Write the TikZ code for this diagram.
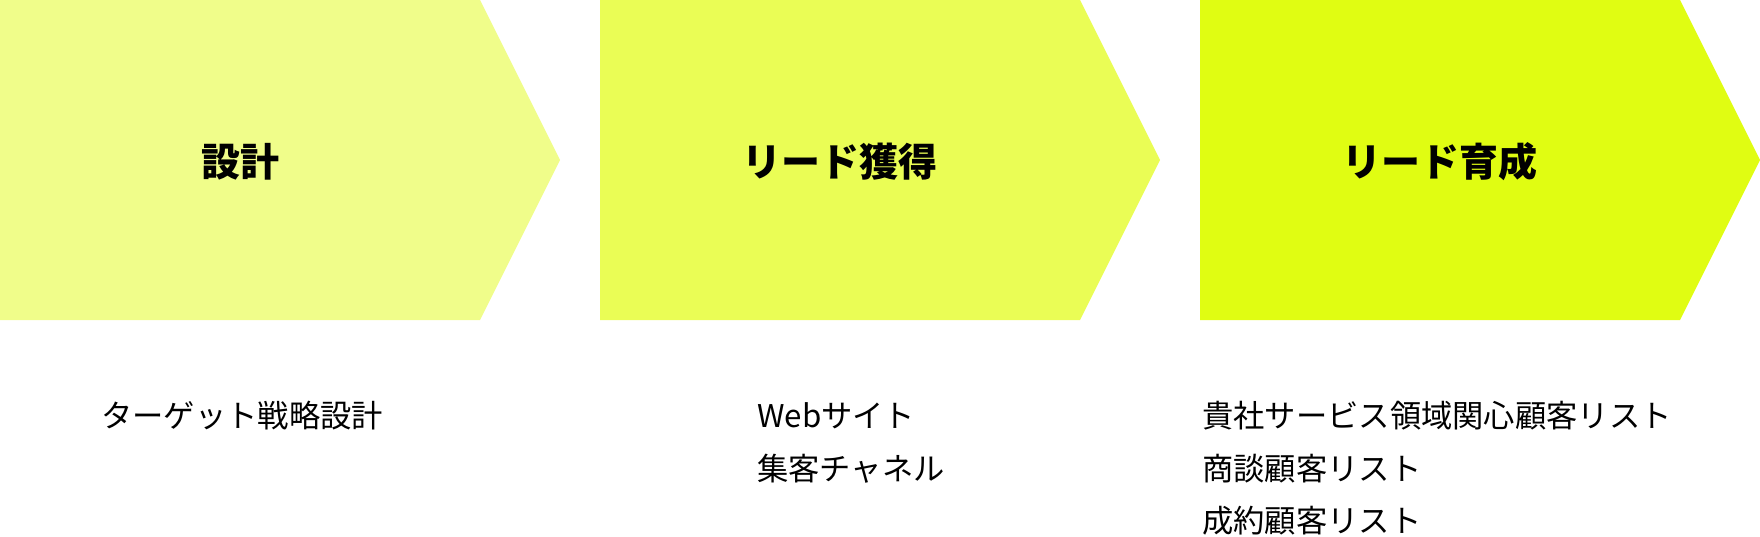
\documentclass[tikz,border=0pt]{standalone}
\usepackage{fontspec}
\setmainfont{Noto Sans CJK JP}
\usetikzlibrary{positioning}
\definecolor{phaseA}{HTML}{F0FD8A}
\definecolor{phaseB}{HTML}{EAFD55}
\definecolor{phaseC}{HTML}{E0FD12}
\tikzset{
  title/.style={inner sep=0pt,font=\fontsize{39}{47}\selectfont\bfseries},
  item/.style={inner sep=0pt,anchor=base west,font=\fontsize{31.3}{37}\selectfont}
}
\begin{document}
\begin{tikzpicture}[x=1pt,y=-1pt]
    \useasboundingbox (0,0) rectangle (1760,536);
    \fill[phaseA] (0,0)--(480,0)--(560,160)--(480,320)--(0,320)--cycle;
    \fill[phaseB] (600,0)--(1080,0)--(1160,160)--(1080,320)--(600,320)--cycle;
    \fill[phaseC] (1200,0)--(1680,0)--(1760,160)--(1680,320)--(1200,320)--cycle;
    \node[title] (design) at (240,161.5) {設計};
    \node[title] (acquire) at (840,161.5) {リード獲得};
    \node[title] (nurture) at (1440,161.5) {リード育成};
    \node[item] (target) at (101,427.5) {ターゲット戦略設計};
    \node[item] (web) at (757,427.5) {Webサイト};
    \node[item] (channel) at (757,480) {集客チャネル};
    \node[item] (interest) at (1202,427.5) {貴社サービス領域関心顧客リスト};
    \node[item] (deal) at (1202,480) {商談顧客リスト};
    \node[item] (won) at (1202,532) {成約顧客リスト};
\end{tikzpicture}
\end{document}
